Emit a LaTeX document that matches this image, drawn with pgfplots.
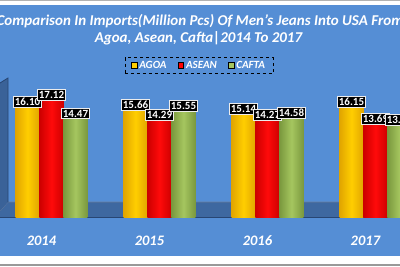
\documentclass[border=0pt]{standalone}
\usepackage{pgfplots}
\pgfplotsset{compat=1.18}
\usepackage{fontspec}
\setmainfont{Carlito}
\definecolor{bg}{RGB}{85,142,213}
\definecolor{floorc}{RGB}{62,104,160}
\definecolor{edgec}{RGB}{40,70,115}
\definecolor{wallc}{RGB}{58,98,152}
\definecolor{yel}{RGB}{255,206,0}
\definecolor{yeld}{RGB}{225,165,0}
\definecolor{rd}{RGB}{255,10,10}
\definecolor{rdd}{RGB}{205,0,0}
\definecolor{grn}{RGB}{165,198,95}
\definecolor{grnd}{RGB}{122,152,62}
\newcommand{\cyl}[4]{\addplot[forget plot, draw=none, bar shift=#1, left color=#2d, right color=#2d, middle color=#2] coordinates {(#3,#4)};}
\begin{document}
\begin{tikzpicture}[x=1pt,y=1pt]
\useasboundingbox (0,0) rectangle (400,266);
\clip (0,0) rectangle (400,266);
\fill[white] (0,0) rectangle (400,266);
\fill[bg] (0,10) rectangle (400,261);
\draw[gray!60, line width=1.2pt] (0,265.2) -- (400,265.2);
\draw[gray!80, line width=2pt] (0,1) -- (400,1);
% floor
\fill[floorc] (0,55) -- (8,64) -- (400,64) -- (400,49) -- (0,49) -- cycle;
\draw[edgec, line width=1pt] (0,49) -- (400,49);
\draw[edgec!70, line width=0.6pt] (0,55) -- (8,64) -- (400,64);
% left wall
\fill[wallc] (0,183) -- (8,188) -- (8,64) -- (0,55) -- cycle;
\draw[edgec, line width=0.8pt] (0,183) -- (8,188) -- (8,64);
% title
\node[text=white, font=\bfseries\itshape\fontsize{15}{17}\selectfont] at (200,245) {Comparison In Imports(Million Pcs) Of Men's Jeans Into USA From};
\node[text=white, font=\bfseries\itshape\fontsize{15}{17}\selectfont] at (198.5,228) {Agoa, Asean, Cafta|2014 To 2017};
\begin{axis}[
  at={(0,70)}, anchor=south west,
  scale only axis, width=400pt, height=138pt,
  xmin=-0.477, xmax=3.227, ymin=0, ymax=20,
  axis line style={draw=none}, tick style={draw=none},
  ytick=\empty,
  xtick={-0.093,0.907,1.907,2.907},
  xticklabels={2014,2015,2016,2017},
  xticklabel style={text=white, font=\bfseries\itshape\fontsize{14.5}{16}\selectfont, anchor=center, yshift=-19pt},
  ybar=0pt, bar width=0.222,
  clip=false,
  nodes near coords,
  nodes near coords style={/pgf/number format/fixed, /pgf/number format/fixed zerofill, /pgf/number format/precision=2, /pgf/number format/assume math mode=true},
  every node near coord/.append style={fill=black, draw=white!85!gray, line width=0.9pt, text=white,
     font=\bfseries\fontsize{11}{12}\selectfont, inner sep=1.7pt, anchor=south, yshift=-1.5pt},
  legend style={at={(0.4975,1.043)}, anchor=south, draw=black, dashed, line width=0.8pt, fill=none,
     text=white, font=\bfseries\itshape\fontsize{11}{13}\selectfont, inner xsep=6pt, inner ysep=1.5pt,
     /tikz/every even column/.append style={column sep=9pt}},
  legend columns=-1,
  legend image code/.code={\fill[#1, solid] (0pt,-2.8pt) rectangle (5.6pt,2.8pt);},
]
\cyl{-0.222}{yel}{0}{16.10}
\cyl{-0.222}{yel}{1}{15.66}
\cyl{-0.222}{yel}{2}{15.14}
\cyl{-0.222}{yel}{3}{16.15}
\cyl{0}{rd}{0}{17.12}
\cyl{0}{rd}{1}{14.29}
\cyl{0}{rd}{2}{14.27}
\cyl{0}{rd}{3}{13.69}
\cyl{0.222}{grn}{0}{14.47}
\cyl{0.222}{grn}{1}{15.55}
\cyl{0.222}{grn}{2}{14.58}
\cyl{0.222}{grn}{3}{13.58}
\addlegendimage{fill=yel}
\addlegendentry{AGOA}
\addlegendimage{fill=red}
\addlegendentry{ASEAN}
\addlegendimage{fill=grn}
\addlegendentry{CAFTA}
\end{axis}
\end{tikzpicture}
\end{document}
